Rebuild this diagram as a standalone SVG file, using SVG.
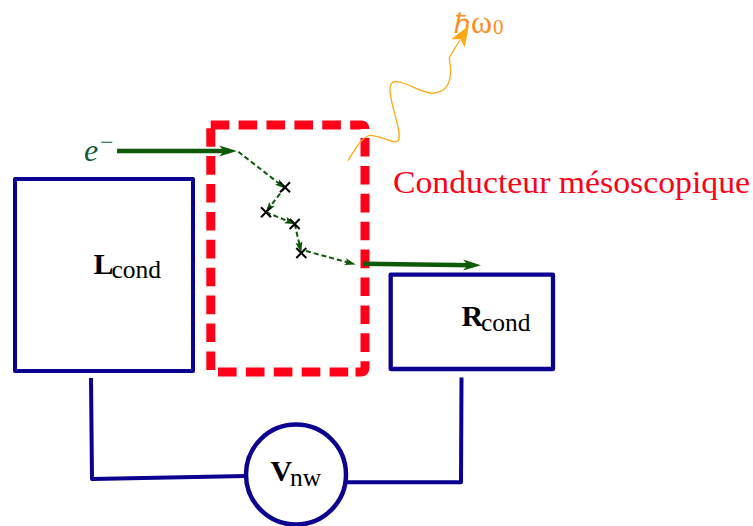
<svg xmlns="http://www.w3.org/2000/svg" width="753" height="526" viewBox="0 0 753 526">
<style>
.b{fill:none;stroke:#0b008f;stroke-linejoin:round}
.g{fill:none;stroke:#0f5a08;stroke-width:4.500}
.d{fill:none;stroke:#0f5a08;stroke-width:2;stroke-dasharray:5 3}
.x{fill:none;stroke:#000;stroke-width:2}
.t{font-family:"Liberation Serif",serif;fill:#000}
.r{fill:none;stroke:#ff0018;stroke-width:9;stroke-dasharray:18.600 9.300}
.s{font-size:25.500px;font-weight:normal}
</style>
<defs>
<marker id="ag" markerUnits="userSpaceOnUse" markerWidth="20" markerHeight="12" refX="10" refY="6" orient="auto"><path d="M0 0.500L18 6L0 11.500L5 6Z" fill="#0f5a08"/></marker>
<marker id="as" markerUnits="userSpaceOnUse" markerWidth="12" markerHeight="8" refX="5" refY="4" orient="auto"><path d="M0 0.500L11 4L0 7.500L2 4Z" fill="#0f5a08"/></marker>
<marker id="ao" markerUnits="userSpaceOnUse" markerWidth="22" markerHeight="20" refX="4" refY="9" orient="auto"><path d="M0 1L21 9L0 17L5 9Z" fill="#ffaa14"/></marker>
</defs>
<g id="meso">
<path class="r" d="M210.800 370V128"/>
<path class="r" d="M210.700 125H361Q365 125 365 129"/>
<path class="r" d="M365 138V368Q365 372 361 372H355"/>
<path class="r" d="M218 372H349"/>
<text x="393" y="192.500" font-family="Liberation Serif,serif" font-size="31.500" fill="#ff0018" textLength="357" lengthAdjust="spacingAndGlyphs">Conducteur mésoscopique</text></g>
<g id="lcond"><rect class="b" x="15" y="179" width="178" height="192" stroke-width="4"/>
<text class="t" x="93.500" y="274" font-size="30" font-weight="bold">L<tspan class="s" x="111.500" dy="4">cond</tspan></text></g>
<g id="rcond"><rect class="b" x="390.700" y="274.700" width="162.300" height="94.300" stroke-width="4.300"/>
<text class="t" x="461.500" y="326" font-size="30" font-weight="bold">R<tspan class="s" x="481" dy="5">cond</tspan></text></g>
<g id="vnw"><circle cx="296" cy="474.600" r="50" fill="#fff" stroke="#0b008f" stroke-width="4.500"/>
<text class="t" x="270.500" y="481" font-size="30" font-weight="bold">V<tspan class="s" x="290" dy="5">nw</tspan></text></g>
<g id="electron"><text x="84" y="161" font-family="Liberation Serif,serif" font-size="32" font-style="italic" fill="#0f5a3c">e<tspan font-size="24" x="100" dy="-11" font-style="normal">−</tspan></text></g>
<g id="photon"><text y="32.500" font-family="Liberation Serif,serif" fill="#ff8c1a"><tspan x="453.500" font-size="27">ℏ</tspan><tspan x="471" font-size="32">ω</tspan><tspan x="493" font-size="21" dy="1">0</tspan></text></g>
<g id="connectors">
<path class="b" stroke-width="4" d="M91 378L92 479L246 476"/>
<path class="b" stroke-width="4" d="M347 482.300L461 482.300L461.500 377.500"/>
<path class="g" d="M117 151H229" marker-end="url(#ag)"/>
<path class="g" d="M363 263.700L473 265.200" marker-end="url(#ag)"/>
<path class="d" d="M238.300 151.700L281 185" marker-end="url(#as)"/>
<path class="d" d="M285 187.300L269 208" marker-end="url(#as)"/>
<path class="d" d="M266 212.300L290 222" marker-end="url(#as)"/>
<path class="d" d="M294.700 224L300 247" marker-end="url(#as)"/>
<path class="d" d="M306 251L350 263" marker-end="url(#as)"/>
<path class="x" d="M280 182.300L290 192.300M290 182.300L280 192.300M261 207.300L271 217.300M271 207.300L261 217.300M289.700 219L299.700 229M299.700 219L289.700 229M296.300 248L306.300 258M306.300 248L296.300 258"/>
<path d="M348 160.700C354 151 362 136 370 135.300C378 135 392 143 396.700 141.700C401 140 399 131 397 123C394 110 389 95 390 88C391 80 396 81 403 83C413 86 424 94 434 93C445 92 450 84 450.500 73C451 67 449.500 62 449.300 57.300L460 40" fill="none" stroke="#ffaa14" stroke-width="1.300" marker-end="url(#ao)"/>
</g>
</svg>
